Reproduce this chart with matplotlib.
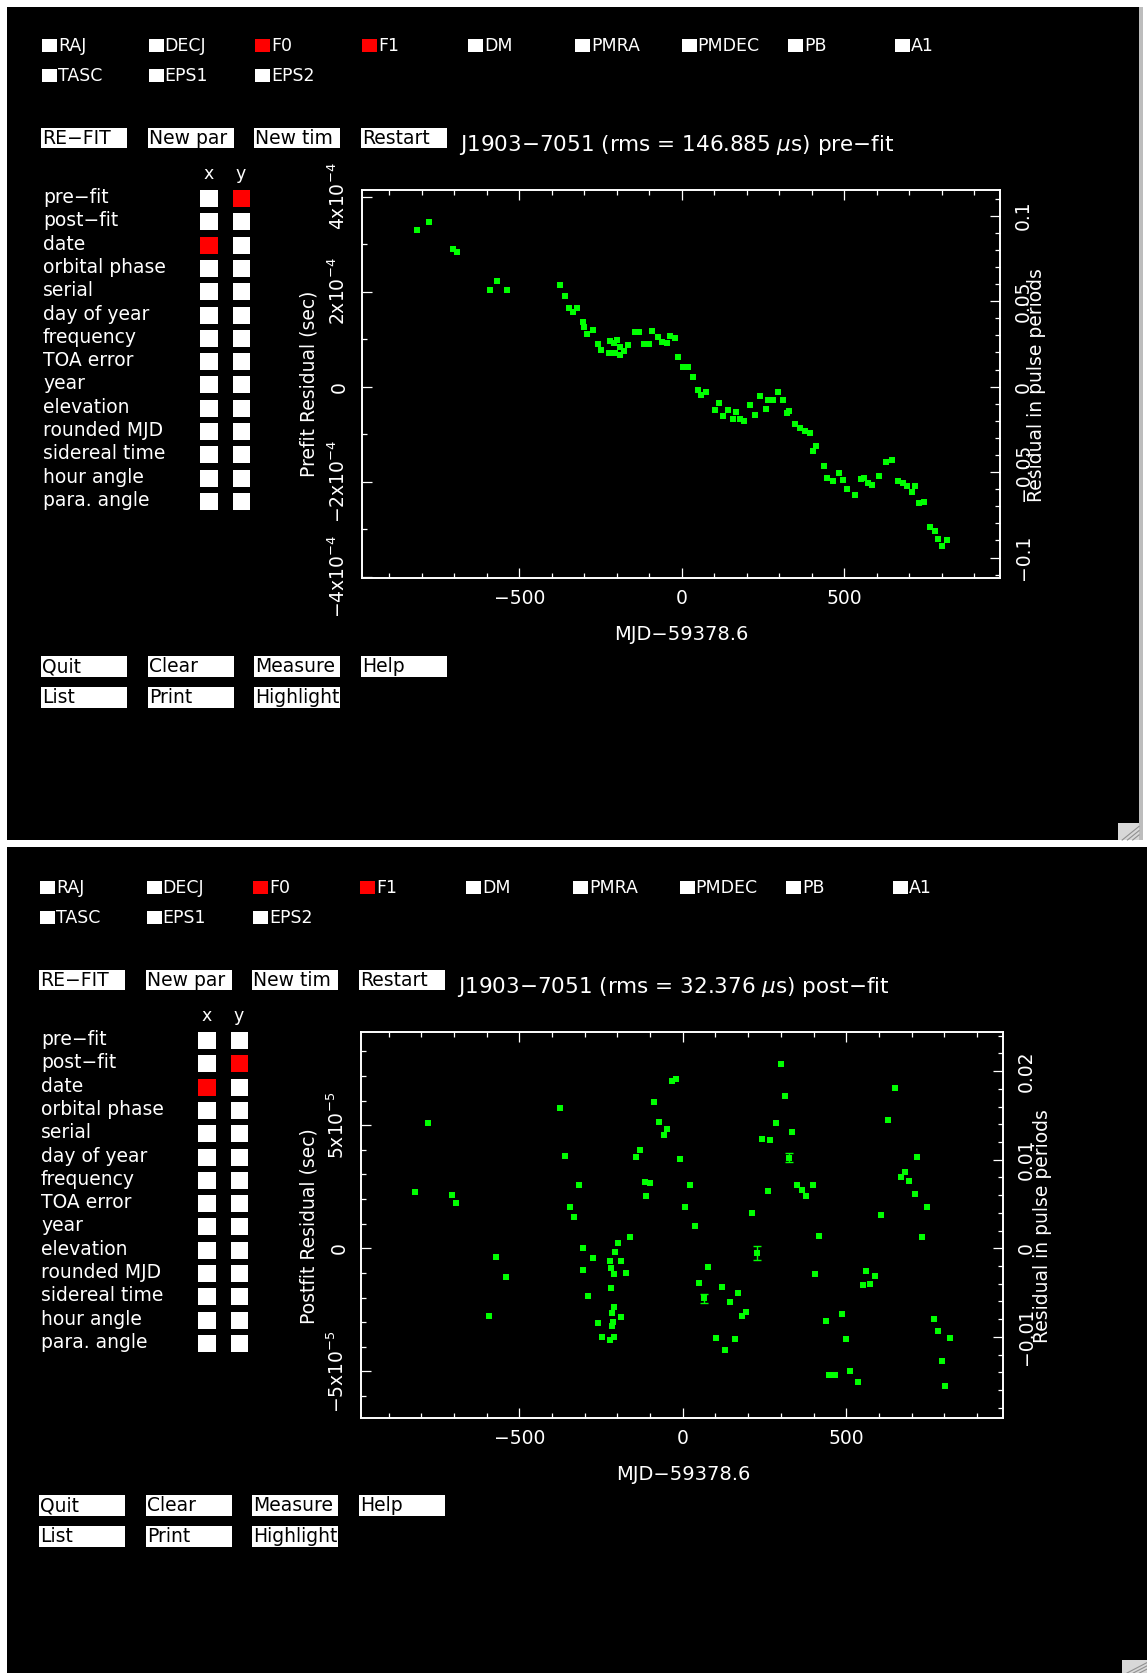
import matplotlib.pyplot as plt
from matplotlib.patches import Rectangle
from matplotlib.ticker import MultipleLocator

W, H = 1147, 1673
period = 3.6e-3  # pulse period (s), for right-hand axis

params_row1 = ['RAJ', 'DECJ', 'F0', 'F1', 'DM', 'PMRA', 'PMDEC', 'PB', 'A1']
params_row2 = ['TASC', 'EPS1', 'EPS2']
fitted = ['F0', 'F1']
buttons_top = ['RE\u2212FIT', 'New par', 'New tim', 'Restart']
buttons_bot1 = ['Quit', 'Clear', 'Measure', 'Help']
buttons_bot2 = ['List', 'Print', 'Highlight']
axis_options = ['pre\u2212fit', 'post\u2212fit', 'date', 'orbital phase', 'serial',
                'day of year', 'frequency', 'TOA error', 'year', 'elevation',
                'rounded MJD', 'sidereal time', 'hour angle', 'para. angle']

# pre-fit residuals (days from MJD 59378.6, 1e-4 s)
pre_day = [-816, -779, -704, -692, -590, -570, -539, -376, -360, -346, -334, -321,
           -304, -302, -291, -274, -259, -247, -225, -222, -209, -204, -191, -199,
           -189, -176, -165, -145, -131, -117, -102, -90, -74, -61, -46, -36, -20,
           -10, 5, 20, 36, 49, 61, 74, 102, 115, 128, 142, 157, 166, 180, 193,
           210, 226, 241, 259, 267, 282, 298, 311, 325, 331, 349, 364, 379, 395,
           405, 415, 438, 446, 467, 484, 497, 510, 534, 552, 561, 574, 587, 607,
           628, 649, 667, 682, 694, 708, 718, 731, 747, 766, 779, 790, 800, 818]
pre_res = [3.30, 3.46, 2.90, 2.84, 2.04, 2.22, 2.04, 2.14, 1.90, 1.66, 1.57, 1.65,
           1.37, 1.26, 1.10, 1.19, 0.89, 0.77, 0.70, 0.96, 0.91, 0.70, 0.67, 0.98,
           0.84, 0.76, 0.88, 1.14, 1.14, 0.90, 0.90, 1.17, 1.05, 0.93, 0.91, 1.07,
           1.03, 0.63, 0.41, 0.42, 0.21, -0.07, -0.18, -0.11, -0.49, -0.34, -0.62,
           -0.49, -0.69, -0.54, -0.68, -0.72, -0.39, -0.60, -0.19, -0.47, -0.28,
           -0.28, -0.11, -0.29, -0.56, -0.51, -0.79, -0.88, -0.93, -0.97, -1.35,
           -1.26, -1.67, -1.92, -1.99, -1.82, -1.97, -2.15, -2.28, -1.95, -1.93,
           -2.04, -2.07, -1.89, -1.59, -1.54, -1.98, -2.04, -2.09, -2.21, -2.09,
           -2.46, -2.42, -2.95, -3.05, -3.21, -3.35, -3.23]

# post-fit residuals (days, 1e-5 s)
post_day = [-820, -780, -705, -694, -592, -571, -540, -375, -361, -346, -333, -318,
            -304, -304, -291, -274, -259, -247, -224, -211, -222, -220, -210, -220,
            -211, -216, -214, -216, -190, -208, -198, -189, -173, -163, -143, -131,
            -115, -101, -114, -88, -74, -59, -47, -33, -20, -9, 21, 8, 38, 76, 51,
            64, 102, 120, 130, 144, 161, 169, 181, 194, 211, 228, 243, 262, 266,
            286, 300, 313, 325, 334, 350, 366, 378, 397, 405, 417, 439, 447, 466,
            486, 499, 511, 537, 551, 561, 572, 587, 608, 629, 650, 667, 679, 693,
            710, 717, 732, 747, 769, 780, 792, 803, 819]
post_res = [2.28, 5.11, 2.17, 1.83, -2.75, -0.34, -1.18, 5.70, 3.77, 1.67, 1.26, 2.57,
            0.00, -0.89, -1.94, -0.39, -3.02, -3.62, -3.73, -3.62, -0.50, -0.81, -1.04,
            -1.63, -2.40, -2.62, -2.98, -3.16, -2.78, -0.14, 0.23, -0.50, -1.02, 0.45,
            3.70, 4.00, 2.68, 2.64, 2.14, 5.96, 5.12, 4.61, 4.85, 6.82, 6.87, 3.62,
            2.57, 1.67, 0.91, -0.75, -1.40, -2.03, -3.66, -1.56, -4.13, -2.20, -3.69,
            -1.83, -2.75, -2.57, 1.42, -0.20, 4.44, 2.33, 4.40, 5.08, 7.48, 6.21, 3.69,
            4.74, 2.57, 2.37, 2.14, 2.57, -1.06, 0.50, -2.94, -5.15, -5.15, -2.67,
            -3.69, -4.99, -5.45, -1.49, -0.91, -1.44, -1.11, 1.34, 5.23, 6.50, 2.89,
            3.10, 2.74, 2.22, 3.73, 0.47, 1.67, -2.87, -3.37, -4.58, -5.60, -3.66]
# points whose error bars are visible
eb_day = [64, 228, 325]
eb_res = [-2.03, -0.20, 3.69]
eb_err = [0.18, 0.28, 0.18]

x_ticks = [-500, 0, 500]
x_labels = ['\u2212500', '0', '500']
pre_yticks = [-4e-4, -2e-4, 0, 2e-4, 4e-4]
pre_ylabels = ['\u22124x10$^{-4}$', '\u22122x10$^{-4}$', '0', '2x10$^{-4}$', '4x10$^{-4}$']
pre_rticks = [-0.1, -0.05, 0, 0.05, 0.1]
pre_rlabels = ['\u22120.1', '\u22120.05', '0', '0.05', '0.1']
post_yticks = [-5e-5, 0, 5e-5]
post_ylabels = ['\u22125x10$^{-5}$', '0', '5x10$^{-5}$']
post_rticks = [-0.01, 0, 0.01, 0.02]
post_rlabels = ['\u22120.01', '0', '0.01', '0.02']

GREEN = '#00ff00'
RED = '#ff0000'
plt.rcParams['font.family'] = ['DejaVu Sans']

fig = plt.figure(figsize=(W / 100, H / 100), dpi=100)
fig.patch.set_facecolor('white')
bg = fig.add_axes([0, 0, 1, 1])
bg.set_xlim(0, W)
bg.set_ylim(H, 0)
bg.axis('off')


def box(x, y, w, h, color):
    bg.add_patch(Rectangle((x, y), w, h, facecolor=color, edgecolor='none'))


def txt(x, y, s, **kw):
    kw.setdefault('color', 'white')
    kw.setdefault('fontsize', 13.5)
    kw.setdefault('va', 'center')
    kw.setdefault('ha', 'left')
    bg.text(x, y, s, **kw)


def grip(x, y, w, h):
    box(x, y, w, h, '#d8d8d8')
    for k in (0.3, 0.55, 0.8):
        bg.plot([x + w * (1 - k), x + w], [y + h, y + h * (1 - k)], color='#909090', lw=0.8)


# window backgrounds
box(7, 7, 1132, 833, 'black')
box(1139, 7, 4, 833, '#bdbdbd')
grip(1118, 823, 21, 17)
box(7, 847, 1140, 826, 'black')
grip(1122, 1660, 25, 13)

btn_x = [41, 148, 254, 361]


def widgets(dx, dy, quit_y, title, ysel):
    for i, p in enumerate(params_row1):
        x = 42 + dx + i * 106.6
        box(x, 39 + dy, 15, 13, RED if p in fitted else 'white')
        txt(x + 16, 46 + dy, p, fontsize=12.5)
    for i, p in enumerate(params_row2):
        x = 42 + dx + i * 106.6
        box(x, 69 + dy, 15, 13, 'white')
        txt(x + 16, 76 + dy, p, fontsize=12.5)
    for i, b in enumerate(buttons_top):
        box(btn_x[i] + dx, 128 + dy, 86, 20, 'white')
        txt(btn_x[i] + dx + 1, 138 + dy, b, color='black')
    txt(459 + dx, 145 + dy, title, fontsize=15.5)
    txt(209 + dx, 174 + dy, 'x', ha='center', fontsize=12.5)
    txt(241 + dx, 174 + dy, 'y', ha='center', fontsize=12.5)
    for i, o in enumerate(axis_options):
        y = 190 + dy + i * 23.3
        txt(43 + dx, y + 7.5, o)
        box(200 + dx, y, 18, 17, RED if o == 'date' else 'white')
        box(233 + dx, y, 17, 17, RED if o == ysel else 'white')
    for row, names in enumerate([buttons_bot1, buttons_bot2]):
        for i, b in enumerate(names):
            y = quit_y + row * 31
            box(btn_x[i] + dx, y, 86, 21, 'white')
            txt(btn_x[i] + dx + 1, y + 10.5, b, color='black')


def style(a):
    for s in a.spines.values():
        s.set_color('white')
        s.set_linewidth(1.2)
    a.tick_params(which='both', direction='in', colors='white', labelsize=13.5, width=0.9)
    a.tick_params(which='major', length=7.2)
    a.tick_params(which='minor', length=3.6)


def residual_plot(px, day, res, ylim, yticks, ylabels, ystep, rticks, rlabels, rstep):
    x0, y0, x1, y1 = px
    ax = fig.add_axes([x0 / W, 1 - y1 / H, (x1 - x0) / W, (y1 - y0) / H])
    ax.set_facecolor('none')
    ax.plot(day, res, 's', color=GREEN, ms=5.0, mew=0)
    ax.set_xlim(-985, 980)
    ax.set_ylim(*ylim)
    ax.set_xticks(x_ticks, x_labels)
    ax.xaxis.set_minor_locator(MultipleLocator(100))
    ax.set_yticks(yticks, ylabels, rotation=90, va='center')
    ax.yaxis.set_minor_locator(MultipleLocator(ystep))
    style(ax)
    ax.tick_params(axis='x', which='both', top=True, pad=8)
    ax.tick_params(axis='y', which='both', right=False, pad=9)
    ax2 = ax.twinx()
    ax2.set_ylim(ylim[0] / period, ylim[1] / period)
    ax2.set_yticks(rticks, rlabels, rotation=90, va='center')
    ax2.yaxis.set_minor_locator(MultipleLocator(rstep))
    style(ax2)
    ax2.tick_params(axis='y', which='both', pad=10)
    return ax


# top window: pre-fit
widgets(0, 0, 656, 'J1903\u22127051 (rms = 146.885 $\\mu$s) pre\u2212fit', 'pre\u2212fit')
residual_plot((361.7, 190, 1000, 578), pre_day, [r * 1e-4 for r in pre_res],
              (-4.03e-4, 4.14e-4), pre_yticks, pre_ylabels, 1e-4,
              pre_rticks, pre_rlabels, 0.01)
txt(309, 384, 'Prefit Residual (sec)', rotation=90, ha='center')
txt(1037, 385, 'Residual in pulse periods', rotation=90, ha='center')
txt(681, 634, 'MJD\u221259378.6', ha='center', fontsize=14)

# bottom window: post-fit
widgets(-2, 842, 1495, 'J1903\u22127051 (rms = 32.376 $\\mu$s) post\u2212fit', 'post\u2212fit')
ax_post = residual_plot((361, 1032.3, 1003, 1418.3), post_day, [r * 1e-5 for r in post_res],
                        (-6.91e-5, 8.78e-5), post_yticks, post_ylabels, 1e-5,
                        post_rticks, post_rlabels, 0.002)
ax_post.errorbar(eb_day, [r * 1e-5 for r in eb_res], yerr=[e * 1e-5 for e in eb_err],
                 fmt='none', ecolor=GREEN, elinewidth=1, capsize=3)
txt(309, 1226, 'Postfit Residual (sec)', rotation=90, ha='center')
txt(1042, 1226, 'Residual in pulse periods', rotation=90, ha='center')
txt(683, 1474, 'MJD\u221259378.6', ha='center', fontsize=14)

fig.savefig('out.png', dpi=100, facecolor='white')
